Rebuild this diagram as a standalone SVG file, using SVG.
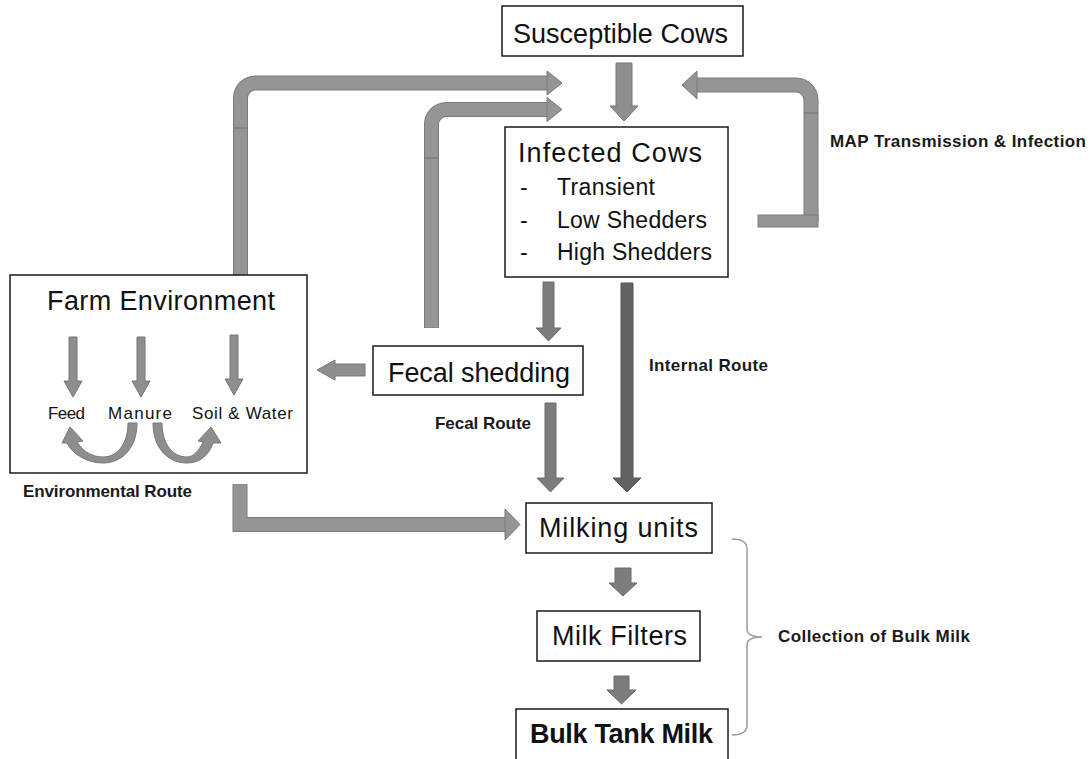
<svg xmlns="http://www.w3.org/2000/svg" width="1091" height="759" viewBox="0 0 1091 759">
  <style>
    .box { fill: #ffffff; stroke: #1a1a1a; stroke-width: 1.5; }
    .t { font-family: "Liberation Sans", Arial, sans-serif; fill: #111111; }
    .title { font-size: 27px; }
    .item { font-size: 23px; }
    .small { font-size: 17px; }
    .lbl { font-size: 17px; font-weight: bold; fill: #1a1a1a; }
    .bendOut { fill: none; stroke: #7a7a7a; stroke-width: 15; stroke-linejoin: miter; }
    .bendIn { fill: none; stroke: #959595; stroke-width: 13; stroke-linejoin: miter; }
    .headL { fill: #959595; stroke: #7a7a7a; stroke-width: 1; }
    .arrM { fill: #7c7c7c; stroke: #6c6c6c; stroke-width: 1; }
    .arrL { fill: #8e8e8e; stroke: #777777; stroke-width: 1; }
    .arrD { fill: #626262; stroke: #555555; stroke-width: 1; }
    .seam { stroke: #777777; stroke-width: 1.2; }
    .brace { fill: none; stroke: #9a9a9a; stroke-width: 1.5; }
  </style>

  <g id="connectors">
    <!-- Farm Environment -> Infected (loop) -->
    <path class="bendOut" d="M 240.5 328 L 240.5 98 A 15 15 0 0 1 255.5 83 L 548 83"/>
    <path class="bendIn" d="M 240.5 327.5 L 240.5 98 A 15 15 0 0 1 255.5 83 L 548 83"/>
    <polygon class="headL" points="547,71 562,83 547,95"/>
    <line class="seam" x1="233" y1="128" x2="248" y2="128"/>

    <!-- Fecal shedding -> Infected (loop) -->
    <path class="bendOut" d="M 431.5 328 L 431.5 124.5 A 15 15 0 0 1 446.5 109.5 L 548 109.5"/>
    <path class="bendIn" d="M 431.5 327.5 L 431.5 124.5 A 15 15 0 0 1 446.5 109.5 L 548 109.5"/>
    <polygon class="headL" points="547,97.5 562,109.5 547,121.5"/>
    <line class="seam" x1="424" y1="158" x2="439" y2="158"/>

    <!-- MAP transmission loop -->
    <path class="bendOut" d="M 811 221 L 811 100 A 15 15 0 0 0 796 85 L 696 85"/>
    <path class="bendIn" d="M 811 221 L 811 100 A 15 15 0 0 0 796 85 L 696 85"/>
    <polygon class="headL" points="697,71 682,85 697,99"/>
    <line class="seam" x1="804" y1="113" x2="818" y2="113"/>
    <rect x="758" y="215" width="60" height="12" fill="#959595" stroke="#7a7a7a" stroke-width="1"/>

    <!-- Environmental route -->
    <path class="bendOut" d="M 240 484 L 240 524.5 L 506 524.5"/>
    <path class="bendIn" d="M 240 484.5 L 240 524.5 L 506 524.5"/>
    <polygon class="headL" points="505,509 520,524.5 505,540"/>

    <!-- Susceptible -> Infected -->
    <polygon class="arrL" points="616,63 632,63 632,106 638,106 624,121 610,106 616,106"/>
    <!-- Infected -> Fecal shedding -->
    <polygon class="arrM" points="543,282 554,282 554,328 561,328 548.5,341 536,328 543,328"/>
    <!-- Internal route -->
    <polygon class="arrD" points="621,283 633,283 633,478 641,478 627,492 613,478 621,478"/>
    <!-- Fecal route -->
    <polygon class="arrM" points="545,403 556,403 556,478 564,478 550.5,492 537,478 545,478"/>
    <!-- Fecal shedding -> Farm Environment -->
    <polygon class="arrL" points="365,364 365,376 335,376 335,380 317,370 335,360 335,364"/>
    <!-- Milking units -> Milk Filters -->
    <polygon class="arrM" points="615,568 631,568 631,583 637,583 623,596 609,583 615,583"/>
    <!-- Milk Filters -> Bulk Tank Milk -->
    <polygon class="arrM" points="614,676 629,676 629,690 636,690 621.5,704 607,690 614,690"/>

    <!-- brace -->
    <path class="brace" d="M 732 539 Q 747 539 747 549 L 747 629 Q 747 637 762 637 Q 747 637 747 645 L 747 725 Q 747 735 732 735"/>
  </g>

  <g id="susceptible-cows">
    <rect class="box" x="502" y="6" width="241" height="50"/>
    <text class="t title" x="513" y="43" textLength="215" lengthAdjust="spacing">Susceptible Cows</text>
  </g>

  <g id="infected-cows">
    <rect class="box" x="505" y="127" width="223" height="150"/>
    <text class="t title" x="518" y="162" textLength="184" lengthAdjust="spacing">Infected Cows</text>
    <text class="t item" x="520" y="195">-</text>
    <text class="t item" x="557" y="195" textLength="98" lengthAdjust="spacing">Transient</text>
    <text class="t item" x="520" y="228">-</text>
    <text class="t item" x="557" y="228" textLength="150" lengthAdjust="spacing">Low Shedders</text>
    <text class="t item" x="520" y="260">-</text>
    <text class="t item" x="557" y="260" textLength="155" lengthAdjust="spacing">High Shedders</text>
  </g>

  <g id="farm-environment">
    <rect class="box" x="10" y="275" width="297" height="198"/>
    <text class="t title" x="47" y="310" textLength="228" lengthAdjust="spacing">Farm Environment</text>
    <polygon class="arrL" points="69,337 77,337 77,381 82,381 73,397 64,381 69,381"/>
    <polygon class="arrL" points="137,337 145,337 145,381 150,381 141,397 132,381 137,381"/>
    <polygon class="arrL" points="230,335 238,335 238,379 243,379 234,395 225,379 230,379"/>
    <text class="t small" x="48" y="419" textLength="37" lengthAdjust="spacing">Feed</text>
    <text class="t small" x="108" y="419" textLength="64" lengthAdjust="spacing">Manure</text>
    <text class="t small" x="192" y="419" textLength="101" lengthAdjust="spacing">Soil &amp; Water</text>
    <path class="arrL" d="M 128 423 L 137 423 C 137 448 122 463 103 463 C 88 463 73 455 67 443 L 62 443 L 70 427 L 83 441 L 77 442 C 83 452 93 457 103 457 C 118 457 128 443 128 423 Z"/>
    <path class="arrL" d="M 162 423 L 153 423 C 153 448 168 463 187 463 C 200 463 209 455 213 443 L 221 443 L 211 427 L 198 441 L 203 442 C 199 451 193 457 187 457 C 172 457 162 443 162 423 Z"/>
  </g>

  <g id="fecal-shedding">
    <rect class="box" x="373" y="346" width="210" height="49"/>
    <text class="t title" x="388" y="382" textLength="182" lengthAdjust="spacing">Fecal shedding</text>
  </g>

  <g id="milking-units">
    <rect class="box" x="526" y="503" width="186" height="50"/>
    <text class="t title" x="539" y="537" textLength="159" lengthAdjust="spacing">Milking units</text>
  </g>

  <g id="milk-filters">
    <rect class="box" x="537" y="611" width="163" height="50"/>
    <text class="t title" x="552" y="645" textLength="135" lengthAdjust="spacing">Milk Filters</text>
  </g>

  <g id="bulk-tank-milk">
    <rect class="box" x="516" y="709" width="212" height="52"/>
    <text class="t title" x="530" y="743" font-weight="bold" textLength="183" lengthAdjust="spacing">Bulk Tank Milk</text>
  </g>

  <g id="labels">
    <text class="t lbl" x="830" y="147" textLength="256" lengthAdjust="spacing">MAP Transmission &amp; Infection</text>
    <text class="t lbl" x="649" y="371" textLength="119" lengthAdjust="spacing">Internal Route</text>
    <text class="t lbl" x="435" y="429" textLength="96" lengthAdjust="spacing">Fecal Route</text>
    <text class="t lbl" x="23" y="497" textLength="169" lengthAdjust="spacing">Environmental Route</text>
    <text class="t lbl" x="778" y="642" textLength="192" lengthAdjust="spacing">Collection of Bulk Milk</text>
  </g>
</svg>
